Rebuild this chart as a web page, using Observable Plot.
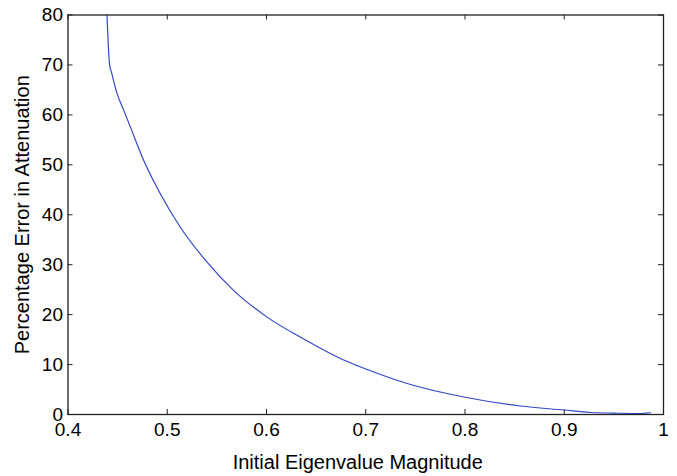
<!DOCTYPE html>
<html>
<head>
<meta charset="utf-8">
<script src="https://cdn.jsdelivr.net/npm/d3@7"></script>
<script src="https://cdn.jsdelivr.net/npm/@observablehq/plot@0.6"></script>
<style>
  html, body { margin: 0; padding: 0; background: #fff; }
  #chart { width: 677px; height: 476px; }
</style>
</head>
<body>
<div id="chart"></div>
<script>
// Data
const eigenvalue = [0.4393, 0.4419, 0.4437, 0.4494, 0.4560, 0.4628, 0.4762, 0.4930, 0.5132, 0.5384, 0.567, 0.6006, 0.634, 0.6778, 0.7014, 0.7417, 0.7988, 0.856, 0.8996, 0.9265, 0.955, 0.975, 0.987];
const errorPct   = [80,     70,     68.6,   64.3,   61.0,   57.6,   50.9,   44.2,   37.5,   30.9,   24.8,  19.5,   15.5,  10.9,   9.0,    6.2,    3.5,    1.7,   0.9,    0.4,    0.25,  0.2,   0.35];

const xTicks = [0.4, 0.5, 0.6, 0.7, 0.8, 0.9, 1];
const xTickLabels = ["0.4", "0.5", "0.6", "0.7", "0.8", "0.9", "1"];
const yTicks = [0, 10, 20, 30, 40, 50, 60, 70, 80];
const yTickLabels = ["0", "10", "20", "30", "40", "50", "60", "70", "80"];

const xLabel = "Initial Eigenvalue Magnitude";
const yLabel = "Percentage Error in Attenuation";

const data = eigenvalue.map((x, i) => ({x, y: errorPct[i]}));

const W = 677, H = 476;
const mT = 14.5, mB = 62, mL = 67.5, mR = 14;
const frameW = W - mL - mR, frameH = H - mT - mB;
const tickLen = 5;
const font = "'Liberation Sans', Arial, Helvetica, sans-serif";

const chart = Plot.plot({
  width: W,
  height: H,
  marginTop: mT,
  marginBottom: mB,
  marginLeft: mL,
  marginRight: mR,
  style: {fontFamily: font, background: "#fff", color: "#000"},
  x: {domain: [0.4, 1]},
  y: {domain: [0, 80]},
  marks: [
    Plot.axisX({ticks: xTicks, tickFormat: (d, i) => xTickLabels[i], tickSize: 0, tickPadding: 8, fontSize: 19, label: null, fill: "#000"}),
    Plot.axisY({ticks: yTicks, tickFormat: (d, i) => yTickLabels[i], tickSize: 0, tickPadding: 5, fontSize: 19, label: null, fill: "#000"}),
    // inward ticks on all four sides
    Plot.ruleX(xTicks, {x: d => d, insetTop: frameH - tickLen, stroke: "#222"}),
    Plot.ruleX(xTicks, {x: d => d, insetBottom: frameH - tickLen, stroke: "#222"}),
    Plot.ruleY(yTicks, {y: d => d, insetRight: frameW - tickLen, stroke: "#222"}),
    Plot.ruleY(yTicks, {y: d => d, insetLeft: frameW - tickLen, stroke: "#222"}),
    Plot.line(data, {x: "x", y: "y", stroke: "#3347c8", strokeWidth: 1.2, curve: "monotone-x", clip: true}),
    Plot.frame({stroke: "#222", strokeWidth: 1.3}),
    Plot.text([xLabel], {text: d => d, frameAnchor: "bottom", textAnchor: "middle", lineAnchor: "middle", dy: 48, dx: -8, fontSize: 20, fill: "#000"}),
    Plot.text([yLabel], {text: d => d, frameAnchor: "left", textAnchor: "middle", lineAnchor: "middle", dx: -45, rotate: -90, fontSize: 20, fill: "#000"})
  ]
});
document.getElementById("chart").appendChild(chart);
</script>
</body>
</html>
